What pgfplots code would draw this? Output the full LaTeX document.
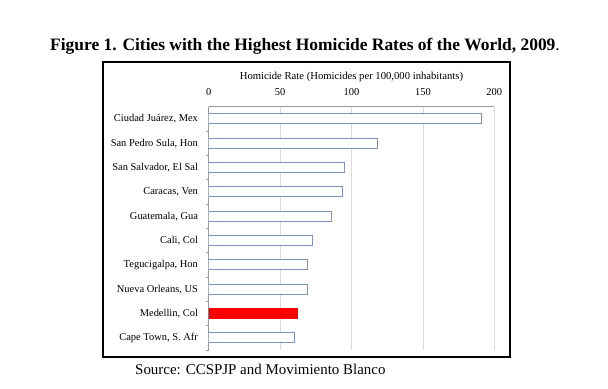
\documentclass[border=0pt]{standalone}
\usepackage{pgfplots}
\pgfplotsset{compat=1.18}
\usepackage{fontspec}
\setmainfont{Liberation Serif}
\definecolor{barline}{HTML}{7C93BE}
\definecolor{gridc}{HTML}{DADADA}
\definecolor{axc}{HTML}{9A9A9A}
\begin{document}
\begin{tikzpicture}[x=1bp,y=1bp]
\path[use as bounding box,fill=white] (0,0) rectangle (608,388);
\draw[line width=1.6bp,black] (102.7,31.3) rectangle (510,326.3);
\node[anchor=base,inner sep=0pt] at (305,337.5) {\fontsize{17.5}{20}\selectfont\textbf{Figure 1. Cities with the Highest Homicide Rates of the World, 2009}.};
\node[anchor=base west,inner sep=0pt] at (135,14) {\fontsize{15}{18}\selectfont Source: CCSPJP and Movimiento Blanco};
\begin{axis}[
  at={(208.7bp,38bp)}, anchor=south west,
  scale only axis, width=285.6bp, height=243.3bp,
  xmin=0, xmax=200, ymin=-0.5, ymax=9.5,
  y dir=reverse,
  axis x line*=top, axis y line*=left,
  axis line style={-, draw=axc, line width=0.6bp},
  xtick={0,50,100,150,200},
  xticklabel pos=upper,
  xmajorgrids, grid style={draw=gridc, line width=0.6bp},
  major x tick style={draw=none},
  ytick={0,...,9},
  yticklabels={{Ciudad Juárez, Mex}, {San Pedro Sula, Hon}, {San Salvador, El Sal}, {Caracas, Ven}, {Guatemala, Gua}, {Cali, Col}, {Tegucigalpa, Hon}, {Nueva Orleans, US}, {Medellin, Col}, {Cape Town, S. Afr}},
  major y tick style={draw=none},
  minor ytick={0.5,1.5,...,8.5,9.5},
  minor y tick style={draw=axc, line width=0.6bp},
  minor tick length=3bp,
  tick align=outside,
  /pgf/number format/assume math mode=true,
  ticklabel style={font=\fontsize{10.5}{12}\selectfont},
  yticklabel style={xshift=-3bp},
  xticklabel style={yshift=3bp},
  xlabel={Homicide Rate (Homicides per 100,000 inhabitants)},
  xlabel style={font=\fontsize{10.7}{12}\selectfont, yshift=0bp},
  xbar, bar width=10bp,
]
\addplot[bar shift=0pt, draw=barline, fill=white, line width=1.1bp] coordinates {
  (191.2,0) (118.3,1) (95.0,2) (93.8,3) (85.9,4) (72.8,5) (69.1,6) (69.1,7) (60.0,9)
};
\addplot[bar shift=0pt, draw=red, fill=red, line width=0.6bp] coordinates {
  (62.1,8)
};
\end{axis}
\end{tikzpicture}
\end{document}
